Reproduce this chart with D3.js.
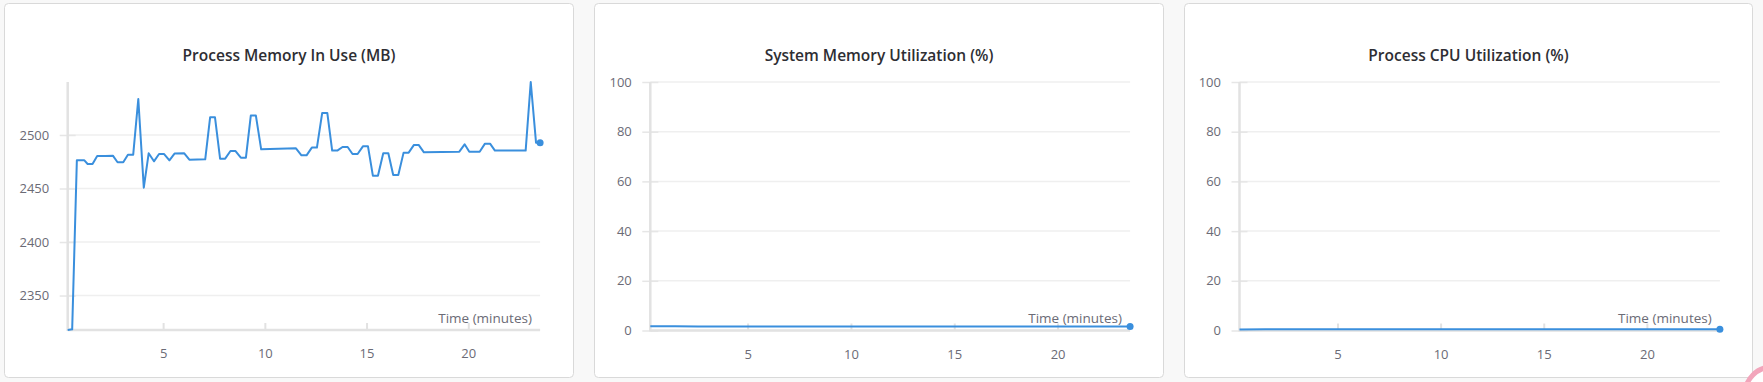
<!DOCTYPE html>
<html>
<head>
<meta charset="utf-8">
<script src="https://cdn.jsdelivr.net/npm/d3@7"></script>
<style>
  html, body { margin: 0; padding: 0; background: #f8f8f8; }
  svg { display: block; }
  text { font-family: "Open Sans", "Noto Sans", sans-serif; }
</style>
</head>
<body>
<svg id="chart" width="1763" height="382"></svg>
<script>
// ---------- DATA ----------
const titles = ["Process Memory In Use (MB)", "System Memory Utilization (%)", "Process CPU Utilization (%)"];
const xAxisLabel = "Time (minutes)";
const xTickValues = [5, 10, 15, 20];
const memYTicks = [2350, 2400, 2450, 2500];
const pctYTicks = [0, 20, 40, 60, 80, 100];

const memTimes = [0.31, 0.53, 0.76, 1.13, 1.29, 1.53, 1.76, 2.16, 2.53, 2.76, 3.04, 3.27, 3.53, 3.78, 4.05, 4.29, 4.55, 4.80, 5.05, 5.31, 5.56, 6.04, 6.29, 7.07, 7.31, 7.55, 7.80, 8.05, 8.31, 8.56, 8.82, 9.07, 9.31, 9.56, 9.82, 11.53, 11.80, 12.05, 12.31, 12.56, 12.82, 13.07, 13.31, 13.56, 13.82, 14.07, 14.31, 14.56, 14.82, 15.07, 15.31, 15.56, 15.82, 16.07, 16.31, 16.56, 16.82, 17.07, 17.33, 17.56, 17.82, 19.56, 19.82, 20.05, 20.56, 20.82, 21.07, 21.31, 22.82, 23.07, 23.33, 23.53];
const memValues = [2317.8, 2318.4, 2476.3, 2476.3, 2472.9, 2472.9, 2480.4, 2480.4, 2480.7, 2474.5, 2474.5, 2481.6, 2481.6, 2533.6, 2450.8, 2482.9, 2475.4, 2482.2, 2482.2, 2476.3, 2482.6, 2482.9, 2476.9, 2477.3, 2516.5, 2516.5, 2477.9, 2477.9, 2485.0, 2485.0, 2478.8, 2478.8, 2518.1, 2518.1, 2486.6, 2487.5, 2481.0, 2481.0, 2488.2, 2488.2, 2520.6, 2520.6, 2485.4, 2485.4, 2488.8, 2488.8, 2482.2, 2482.2, 2489.4, 2489.4, 2462.0, 2462.0, 2482.9, 2482.9, 2462.6, 2462.6, 2483.5, 2483.5, 2490.7, 2490.7, 2483.8, 2484.4, 2491.3, 2484.4, 2484.4, 2491.9, 2491.9, 2485.4, 2485.4, 2549.5, 2492.8, 2492.8];

const sysTimes = [0.29, 1.5, 2.6, 5, 10, 15, 20, 23.51];
const sysValues = [1.7, 1.7, 1.6, 1.6, 1.6, 1.6, 1.6, 1.6];

const cpuTimes = [0.25, 1.5, 2.6, 5, 10, 15, 20, 23.54];
const cpuValues = [0.4, 0.5, 0.5, 0.5, 0.5, 0.5, 0.5, 0.55];

// ---------- LAYOUT ----------
const panels = [
  { title: titles[0], times: memTimes, values: memValues, yTicks: memYTicks, yDomain: null,
    card: [4.5, 3, 573.5, 377], plot: [67.7, 82, 540.1, 330] },
  { title: titles[1], times: sysTimes, values: sysValues, yTicks: pctYTicks, yDomain: [0, 100],
    card: [594.5, 3, 1163.5, 377], plot: [650.3, 82, 1130.1, 330.5] },
  { title: titles[2], times: cpuTimes, values: cpuValues, yTicks: pctYTicks, yDomain: [0, 100],
    card: [1184.5, 3, 1752.5, 377], plot: [1239.5, 82, 1719.9, 330.5] }
];

const svg = d3.select("#chart");
const lineColor = "#3a8fdd";
const fmt = d3.format("d");

panels.forEach(p => {
  const [cx0, cy0, cx1, cy1] = p.card;
  const [px0, py0, px1, py1] = p.plot;
  const g = svg.append("g");

  g.append("rect")
    .attr("x", cx0).attr("y", cy0 + 0.5)
    .attr("width", cx1 - cx0).attr("height", cy1 - cy0)
    .attr("rx", 4)
    .attr("fill", "#ffffff").attr("stroke", "#d9d9d9");

  g.append("text")
    .attr("x", (cx0 + cx1) / 2).attr("y", 61)
    .attr("text-anchor", "middle")
    .attr("font-size", 15.5).attr("font-weight", 600)
    .attr("fill", "#2e2e33")
    .text(p.title);

  const data = p.times.map((t, i) => ({ t, v: p.values[i] }));
  const x = d3.scaleLinear().domain(d3.extent(p.times)).range([px0, px1]);
  const y = d3.scaleLinear().domain(p.yDomain || d3.extent(p.values)).range([py1, py0]);

  // grid lines
  g.append("g").selectAll("line").data(p.yTicks).join("line")
    .attr("x1", px0).attr("x2", px1)
    .attr("y1", d => y(d)).attr("y2", d => y(d))
    .attr("stroke", "#efefef").attr("stroke-width", 1.5);

  // y axis (ticks straddle the axis line)
  const yAxis = g.append("g").attr("transform", `translate(${px0 + 8},0)`)
    .call(d3.axisLeft(y).tickValues(p.yTicks).tickFormat(fmt).tickSizeInner(16).tickSizeOuter(0).tickPadding(10.5));
  yAxis.select(".domain").remove();
  yAxis.selectAll(".tick line").attr("stroke", "#e6e6e6").attr("stroke-width", 1.5);
  yAxis.selectAll(".tick text").attr("fill", "#6b6b76").attr("font-size", 13)
    .attr("font-family", "'Open Sans', 'Noto Sans', sans-serif");

  g.append("line").attr("x1", px0).attr("x2", px0).attr("y1", py0).attr("y2", py1 + 1)
    .attr("stroke", "#e2e2e2").attr("stroke-width", 2.5);

  // x axis
  const xAxis = g.append("g").attr("transform", `translate(0,${py1})`)
    .call(d3.axisBottom(x).tickValues(xTickValues).tickFormat(fmt).tickSizeInner(-7).tickSizeOuter(0).tickPadding(19));
  xAxis.select(".domain").remove();
  xAxis.selectAll(".tick line").attr("stroke", "#e2e2e2").attr("stroke-width", 2);
  xAxis.selectAll(".tick text").attr("fill", "#6b6b76").attr("font-size", 13)
    .attr("font-family", "'Open Sans', 'Noto Sans', sans-serif");

  g.append("line").attr("x1", px0).attr("x2", px1).attr("y1", py1).attr("y2", py1)
    .attr("stroke", "#e2e2e2").attr("stroke-width", 2.5);

  g.append("text")
    .attr("x", px1 - 8.2).attr("y", py1 - 7.5)
    .attr("text-anchor", "end")
    .attr("font-size", 13.5).attr("fill", "#6b6b76")
    .text(xAxisLabel);

  // line
  g.append("path").datum(data)
    .attr("fill", "none").attr("stroke", lineColor).attr("stroke-width", 2)
    .attr("stroke-linejoin", "round")
    .attr("d", d3.line().x(d => x(d.t)).y(d => y(d.v)));

  const last = data[data.length - 1];
  g.append("circle").attr("cx", x(last.t)).attr("cy", y(last.v)).attr("r", 3.5)
    .attr("fill", lineColor);
});

// corner widget
svg.append("circle").attr("cx", 1772).attr("cy", 394).attr("r", 27)
  .attr("fill", "#ffffff").attr("stroke", "#f2a5bb").attr("stroke-width", 5);
</script>
</body>
</html>
